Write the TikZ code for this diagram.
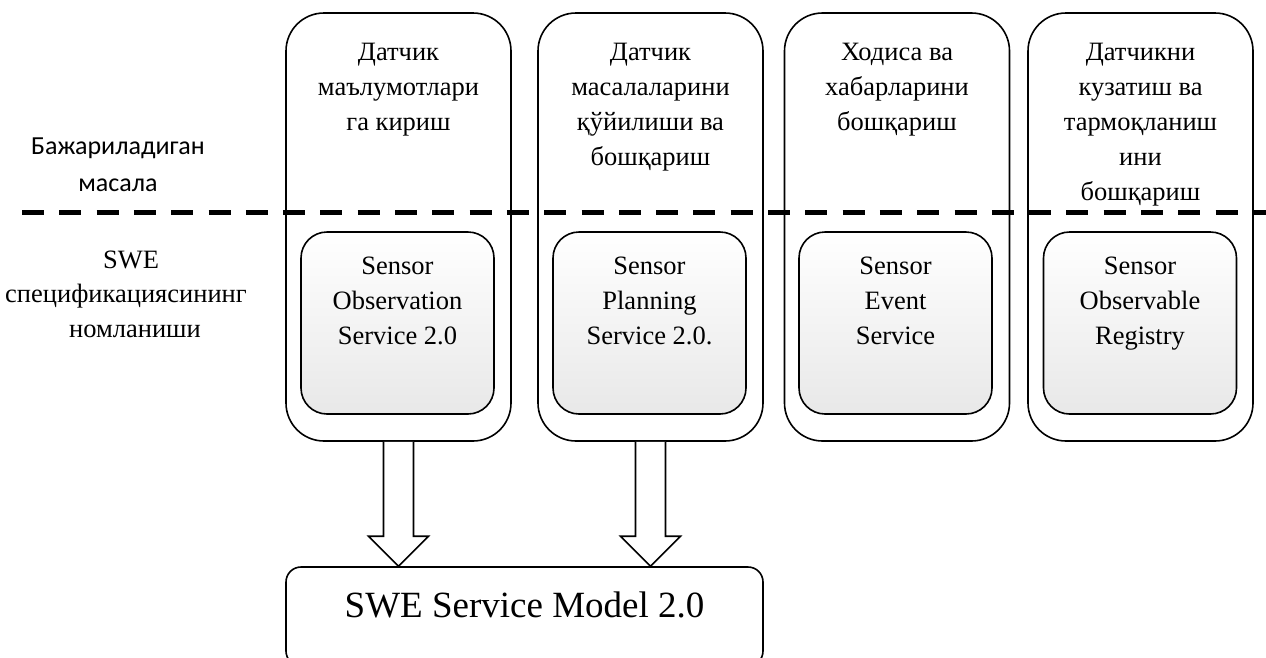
\documentclass[tikz,border=0pt]{standalone}
\usepackage{fontspec}
\setmainfont{Liberation Serif}
\newfontfamily\labelsans{Carlito}
\usetikzlibrary{calc}

\tikzset{
  outerbox/.style={draw, line width=1.6pt, rounded corners=38pt,
    minimum width=225pt, minimum height=428pt, inner sep=0pt},
  innerbox/.style={draw, line width=1.6pt, rounded corners=26pt,
    minimum width=193pt, minimum height=182pt, inner sep=0pt,
    top color=white, bottom color=black!9},
  modelbox/.style={draw, line width=1.6pt, rounded corners=15pt,
    minimum width=477pt, minimum height=99pt, inner sep=0pt,
    font=\fontsize{37}{44}\selectfont, text height=25pt, text depth=24pt},
  boxtext/.style={anchor=north, align=center, inner sep=0pt,
    font=\fontsize{26.5}{35}\selectfont},
  sidetext/.style={anchor=base, inner sep=0pt,
    font=\fontsize{26.5}{35}\selectfont},
  sidesans/.style={anchor=north, align=center, inner sep=0pt,
    font=\labelsans\fontsize{26}{37}\selectfont},
  separator/.style={line width=5pt, dash pattern=on 22pt off 15.3pt},
  fatarrow/.style={line width=1.6pt, fill=white, line join=miter},
}

\begin{document}
\begin{tikzpicture}[x=1pt, y=-1pt]
\useasboundingbox (0,0) rectangle (1266,657);

% outer columns
\node[outerbox] (o1) at (398.5,227) {};
\node[outerbox] (o2) at (650.5,227) {};
\node[outerbox] (o3) at (897,227) {};
\node[outerbox] (o4) at (1140.5,227) {};

% task titles
\node[boxtext] (t1) at (398.5,43) {Датчик\\маълумотлари\\га кириш};
\node[boxtext] (t2) at (650.5,43) {Датчик\\масалаларини\\қўйилиши ва\\бошқариш};
\node[boxtext] (t3) at (897,43) {Ходиса ва\\хабарларини\\бошқариш};
\node[boxtext] (t4) at (1140.5,43) {Датчикни\\кузатиш ва\\тармоқланиш\\ини\\бошқариш};

% specification boxes
\node[innerbox] (i1) at (397.5,323) {};
\node[innerbox] (i2) at (649.5,323) {};
\node[innerbox] (i3) at (895.5,323) {};
\node[innerbox] (i4) at (1140,323) {};
\node[boxtext] (s1) at (i1.center |- 0,257) {Sensor\\Observation\\Service 2.0};
\node[boxtext] (s2) at (i2.center |- 0,257) {Sensor\\Planning\\Service 2.0.};
\node[boxtext] (s3) at (i3.center |- 0,257) {Sensor\\Event\\Service};
\node[boxtext] (s4) at (i4.center |- 0,257) {Sensor\\Observable\\Registry};

% row captions
\node[sidesans] (task) at (118,138) {Бажариладиган\\масала};
\node[sidetext] (swe1) at (131,268) {SWE};
\node[sidetext] (swe2) at (126,302) {спецификациясининг};
\node[sidetext] (swe3) at (135,337) {номланиши};

% separator between the rows
\coordinate (sepL) at (22,212);
\coordinate (sepR) at (1270,212);
\draw[separator] (sepL) -- (sepR);

% service model
\node[modelbox] (model) at (524.5,616.5) {SWE Service Model 2.0};

% block arrows into the service model
\coordinate (tip1) at (o1.south |- model.north);
\coordinate (tip2) at (o2.south |- model.north);
\draw[fatarrow] ($(o1.south)+(-15,0)$) -- ($(tip1)+(-15,-30)$) -- ($(tip1)+(-30,-30)$)
  -- (tip1) -- ($(tip1)+(30,-30)$) -- ($(tip1)+(15,-30)$) -- ($(o1.south)+(15,0)$);
\draw[fatarrow] ($(o2.south)+(-15,0)$) -- ($(tip2)+(-15,-30)$) -- ($(tip2)+(-30,-30)$)
  -- (tip2) -- ($(tip2)+(30,-30)$) -- ($(tip2)+(15,-30)$) -- ($(o2.south)+(15,0)$);
\end{tikzpicture}
\end{document}
